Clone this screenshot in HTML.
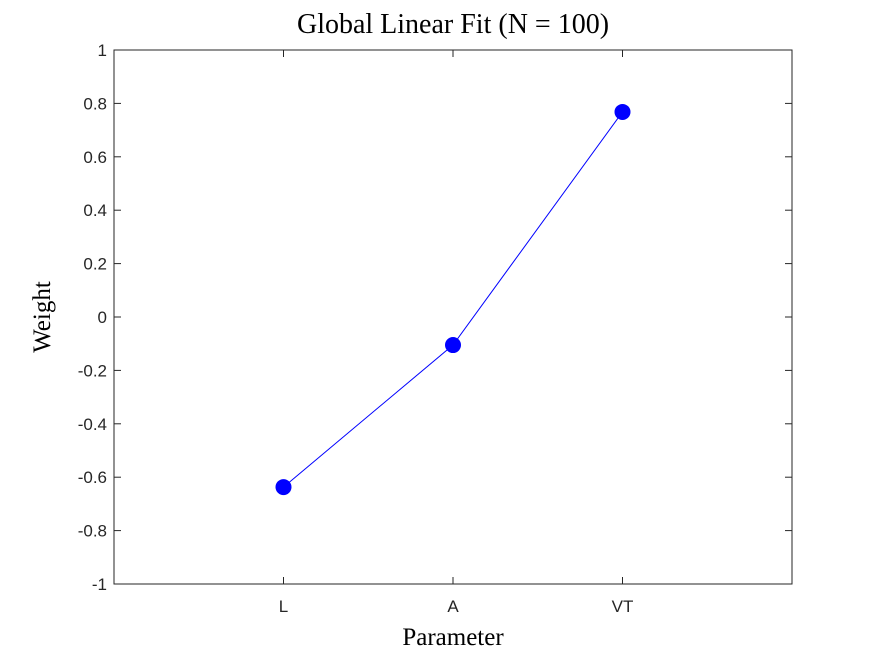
<!DOCTYPE html>
<html><head><meta charset="utf-8"><style>
body{margin:0;background:#fff;}
svg{display:block;}
.tk{font-family:"Liberation Sans",sans-serif;font-size:17px;fill:#262626;}
.serif{font-family:"Liberation Serif",serif;fill:#000;}
</style></head><body>
<svg id="chart" width="875" height="656">
<rect x="0" y="0" width="875" height="656" fill="#fff"/>
<g id="plot"></g>
</svg>
<script>
const categories = ["L","A","VT"];
const weights = [-0.637, -0.105, 0.768];
const yTicks = [-1,-0.8,-0.6,-0.4,-0.2,0,0.2,0.4,0.6,0.8,1];
const yTickLabels = ["-1","-0.8","-0.6","-0.4","-0.2","0","0.2","0.4","0.6","0.8","1"];

const L=114,R=792,T=50,B=584;
const xs = i => L + (i+1)*(R-L)/4;
const ys = v => B - (v+1)/2*(B-T);
const ns="http://www.w3.org/2000/svg";
const g=document.getElementById('plot');
function mk(tag,attrs,text){const e=document.createElementNS(ns,tag);for(const k in attrs)e.setAttribute(k,attrs[k]);if(text!==undefined)e.textContent=text;g.appendChild(e);return e;}

const box=mk('rect',{x:L,y:T,width:R-L,height:B-T,fill:'none',stroke:'#262626','stroke-width':1});



yTicks.forEach((v,i)=>{
  const y=ys(v);
  const t1=mk('line',{x1:L,x2:L+7,y1:y,y2:y,stroke:'#262626'});
  
  
  const t2=mk('line',{x1:R,x2:R-7,y1:y,y2:y,stroke:'#262626'});
  
  
  const lb=mk('text',{x:L-7,y:y+6,'text-anchor':'end',class:'tk'},yTickLabels[i]);
  
  
});
categories.forEach((c,i)=>{
  const x=xs(i);
  const t1=mk('line',{x1:x,x2:x,y1:B,y2:B-7,stroke:'#262626'});
  
  
  const t2=mk('line',{x1:x,x2:x,y1:T,y2:T+7,stroke:'#262626'});
  
  
  const lb=mk('text',{x:x,y:B+28,'text-anchor':'middle',class:'tk'},c);
  
  
});

const pts=weights.map((v,i)=>xs(i)+','+ys(v)).join(' ');
const line=mk('polyline',{points:pts,fill:'none',stroke:'#0000ff','stroke-width':1});


weights.forEach((v,i)=>{
  const c=mk('circle',{cx:xs(i),cy:ys(v),r:8,fill:'#0000ff'});
  
  
});

const title=mk('text',{x:453,y:33,'text-anchor':'middle',class:'serif','font-size':'28'},'Global Linear Fit (N = 100)');


const xt=mk('text',{x:453,y:645,'text-anchor':'middle',class:'serif','font-size':'25'},'Parameter');


const yt=mk('text',{x:0,y:0,'text-anchor':'middle',class:'serif','font-size':'25',transform:'translate(50,317) rotate(-90)'},'Weight');


</script>
</body></html>
